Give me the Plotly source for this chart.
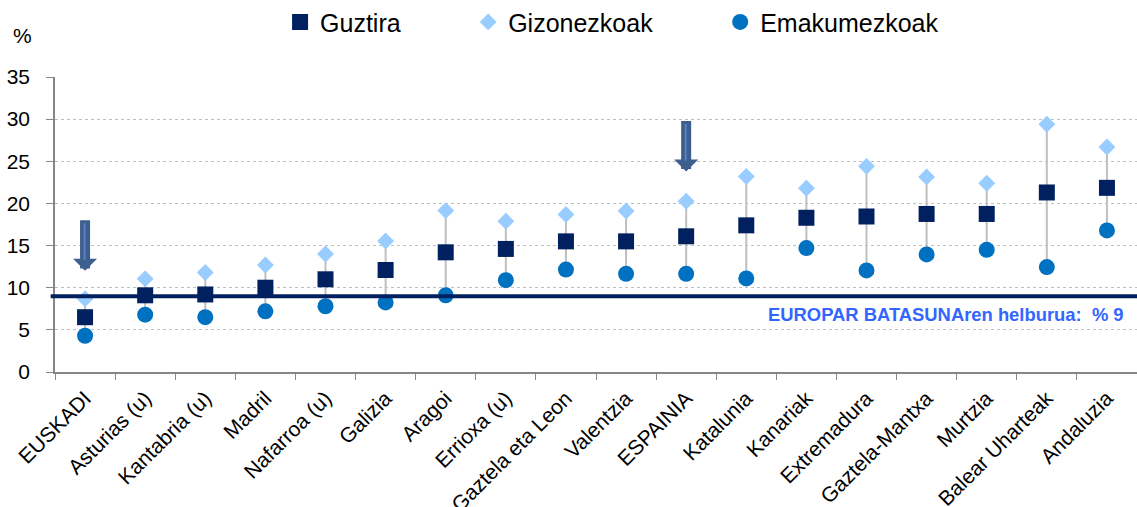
import plotly.graph_objects as go

categories = ["EUSKADI", "Asturias (u)", "Kantabria (u)", "Madril", "Nafarroa (u)",
              "Galizia", "Aragoi", "Errioxa (u)", "Gaztela eta Leon", "Valentzia",
              "ESPAINIA", "Katalunia", "Kanariak", "Extremadura", "Gaztela-Mantxa",
              "Murtzia", "Balear Uharteak", "Andaluzia"]
guztira = [6.5, 9.1, 9.2, 10.0, 11.0, 12.1, 14.2, 14.6, 15.5, 15.5,
           16.1, 17.4, 18.3, 18.45, 18.75, 18.75, 21.3, 21.85]
gizonezkoak = [8.7, 11.05, 11.8, 12.7, 14.0, 15.55, 19.15, 17.9, 18.7, 19.1,
               20.25, 23.2, 21.8, 24.4, 23.15, 22.4, 29.4, 26.7]
emakumezkoak = [4.3, 6.8, 6.5, 7.2, 7.8, 8.25, 9.1, 10.9, 12.15, 11.65,
                11.65, 11.1, 14.7, 12.05, 13.95, 14.5, 12.45, 16.8]
target = 9
target_label = "EUROPAR BATASUNAren helburua:  % 9"
arrow_tips = {"EUSKADI": 12.0, "ESPAINIA": 23.8}
y_ticks = [0, 5, 10, 15, 20, 25, 30, 35]

FONT = "Arial, Liberation Sans, sans-serif"
NB = "\u00a0"

fig = go.Figure()

# high-low connector lines (men -> women)
cx, cy = [], []
for c, a, b in zip(categories, gizonezkoak, emakumezkoak):
    cx += [c, c, None]
    cy += [a, b, None]
fig.add_trace(go.Scatter(x=cx, y=cy, mode="lines", line=dict(color="#BFBFBF", width=2),
                         showlegend=False, hoverinfo="skip"))

fig.add_trace(go.Scatter(x=categories, y=guztira, mode="markers", name="Guztira" + NB * 9,
                         marker=dict(symbol="square", size=16, color="#002060")))
fig.add_trace(go.Scatter(x=categories, y=gizonezkoak, mode="markers", name="Gizonezkoak" + NB * 9,
                         marker=dict(symbol="diamond", size=13, color="#99CCFF")))
fig.add_trace(go.Scatter(x=categories, y=emakumezkoak, mode="markers", name="Emakumezkoak",
                         marker=dict(symbol="circle", size=16, color="#0070C0")))

shapes = [
    dict(type="rect", xref="paper", yref="y", x0=0.647, x1=0.991, y0=4.0, y1=8.7,
         fillcolor="white", line=dict(width=0), layer="between"),
    dict(type="line", xref="paper", yref="y", x0=-0.004, x1=1, y0=target, y1=target,
         line=dict(color="#002060", width=4), layer="above"),
]

annotations = [
    dict(text="%", xref="paper", yref="paper", x=-0.0296, y=1.142, showarrow=False,
         font=dict(family=FONT, size=21, color="black"), xanchor="center", yanchor="middle"),
    dict(text="<b>" + target_label + "</b>", xref="paper", yref="y", x=0.8234, y=6.85,
         showarrow=False, font=dict(family=FONT, size=18.4, color="#3366FF"),
         xanchor="center", yanchor="middle"),
]
for cat, tip in arrow_tips.items():
    idx = categories.index(cat)
    annotations.append(dict(text="", x=idx, y=tip, xref="x", yref="y", showarrow=True,
                            ax=0, ay=-52, arrowhead=1, arrowsize=0.4, arrowwidth=10,
                            arrowcolor="#3D5F8F", standoff=0))
    annotations.append(dict(text="", x=idx, y=tip, xref="x", yref="y", showarrow=True,
                            ax=0, ay=-38, yshift=11, xshift=-0.5, arrowhead=0, arrowwidth=2,
                            arrowcolor="#5A82BC", standoff=0))

fig.update_layout(
    width=1137, height=507,
    margin=dict(l=55, r=0, t=77, b=135, autoexpand=False),
    paper_bgcolor="white", plot_bgcolor="white",
    font=dict(family=FONT, color="black"),
    showlegend=True,
    legend=dict(orientation="h", x=0.208, y=1.186, xanchor="left", yanchor="middle",
                font=dict(family=FONT, size=25, color="black"), bgcolor="rgba(0,0,0,0)",
                itemwidth=30),
    shapes=shapes,
    annotations=annotations,
    xaxis=dict(type="category", categoryorder="array", categoryarray=categories,
               range=[-0.5, len(categories) - 0.5], tickson="boundaries",
               ticks="outside", ticklen=6, tickcolor="#868686", showline=True,
               linecolor="#868686", linewidth=1.5, showgrid=False, tickangle=-45,
               automargin=False, ticklabelstandoff=4,
               tickfont=dict(family=FONT, size=21, color="black")),
    yaxis=dict(range=[0, 35], tickvals=y_ticks, ticks="outside", ticklen=7,
               tickcolor="#868686", showline=True, linecolor="#868686", linewidth=1.5,
               showgrid=True, gridcolor="#BFBFBF", griddash="dot", gridwidth=1,
               zeroline=False, ticklabelstandoff=12, automargin=False,
               tickfont=dict(family=FONT, size=21, color="black")),
)

fig.write_html("out.html", config={"displayModeBar": False},
               post_script="document.body.style.margin='0';document.body.style.overflow='hidden';")
